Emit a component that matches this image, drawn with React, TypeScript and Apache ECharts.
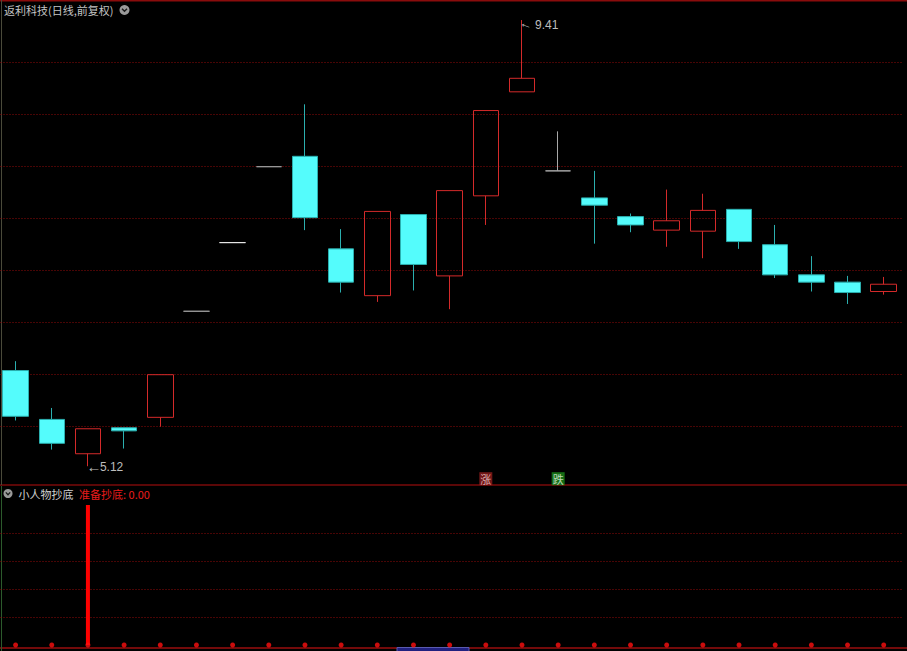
import React, { useEffect, useRef } from 'react';
import * as echarts from 'echarts';

const categories = [
  '01', '02', '03', '04', '05', '06', '07', '08', '09', '10',
  '11', '12', '13', '14', '15', '16', '17', '18', '19', '20',
  '21', '22', '23', '24', '25',
];
const opens = [6.04, 5.57, 5.24, 5.49, 5.59, 6.61, 7.27, 8.0, 8.1, 7.21, 6.76, 7.54, 6.95, 7.72, 8.72, 7.96, 7.7, 7.52, 7.39, 7.38, 7.59, 7.25, 6.96, 6.89, 6.8];
const closes = [5.6, 5.34, 5.48, 5.46, 6.0, 6.61, 7.27, 8.0, 7.51, 6.89, 7.57, 7.06, 7.77, 8.54, 8.85, 7.96, 7.63, 7.44, 7.48, 7.58, 7.28, 6.96, 6.89, 6.79, 6.87];
const lows = [5.56, 5.28, 5.12, 5.29, 5.5, 6.61, 7.27, 8.0, 7.39, 6.79, 6.7, 6.81, 6.63, 7.44, 8.72, 7.96, 7.26, 7.37, 7.23, 7.12, 7.21, 6.93, 6.8, 6.68, 6.77];
const highs = [6.13, 5.68, 5.48, 5.49, 6.0, 6.61, 7.27, 8.0, 8.6, 7.4, 7.57, 7.54, 7.77, 8.54, 9.41, 8.34, 7.96, 7.55, 7.78, 7.74, 7.59, 7.44, 7.14, 6.95, 6.94];
const dojiColors: Record<number, string> = { 5: '#9c9c9c', 6: '#e8e8e8', 7: '#9c9c9c', 15: '#a8a8a8' };

const priceMin = 5.0;
const priceMax = 9.5;
const priceStep = 0.5;

const highIndex = 14;
const highValue = 9.41;
const lowIndex = 2;
const lowValue = 5.12;

const signalMarkers = [
  { index: 13, text: '涨', bg: '#8e1d1d', fg: '#f2d6d6' },
  { index: 15, text: '跌', bg: '#1a8a1a', fg: '#e0f5e0' },
];
const markerLevel = 5.0;

const bottomSignal = [0, 0, 1, 0, 0, 0, 0, 0, 0, 0, 0, 0, 0, 0, 0, 0, 0, 0, 0, 0, 0, 0, 0, 0, 0];
const bottomDots = [0, 0, 0, 0, 0, 0, 0, 0, 0, 0, 0, 0, 0, 0, 0, 0, 0, 0, 0, 0, 0, 0, 0, 0, 0];

const CJK = '"Noto Sans CJK SC", "Noto Sans", sans-serif';
const NUM = '"Liberation Sans", Arial, sans-serif';

// the chart canvas is shifted 3px to the left of the page so the plot can start left of the page edge
const SHIFT = 3;

export default function App() {
  const ref = useRef<HTMLDivElement>(null);
  useEffect(() => {
    if (!ref.current) return;
    const chart = echarts.init(ref.current, null, { renderer: 'svg' });
    const candleData = categories.map((_, i) => {
      const item: any = { value: [opens[i], closes[i], lows[i], highs[i]] };
      if (dojiColors[i]) item.itemStyle = { borderColorDoji: dojiColors[i] };
      return item;
    });
    const gridLine = { color: '#900a0a', width: 1, type: [1, 2] as any };
    const hidden = { axisLine: { show: false }, axisTick: { show: false }, axisLabel: { show: false } };
    const option: any = {
      animation: false,
      backgroundColor: '#000000',
      grid: [
        { left: 0.5, right: 5.2, top: 10.7, height: 468 },
        { left: 0.5, right: 5.2, top: 505, height: 140 },
      ],
      xAxis: [
        { type: 'category', data: categories, gridIndex: 0, boundaryGap: true, ...hidden, splitLine: { show: false } },
        { type: 'category', data: categories, gridIndex: 1, boundaryGap: true, ...hidden, splitLine: { show: false } },
      ],
      yAxis: [
        {
          type: 'value', gridIndex: 0, min: priceMin, max: priceMax, interval: priceStep, ...hidden,
          splitLine: { show: true, showMinLine: false, showMaxLine: false, lineStyle: gridLine },
        },
        {
          type: 'value', gridIndex: 1, min: 0, max: 1, interval: 0.2, ...hidden,
          splitLine: { show: true, showMinLine: false, showMaxLine: false, lineStyle: gridLine },
        },
      ],
      series: [
        {
          type: 'candlestick', xAxisIndex: 0, yAxisIndex: 0, barWidth: 26,
          data: candleData,
          itemStyle: {
            color: 'transparent', color0: '#54FCFC',
            borderColor: '#D42A2A', borderColor0: '#2BAFAF', borderColorDoji: '#a0a0a0', borderWidth: 1,
          },
          markPoint: {
            symbol: 'circle', symbolSize: 0, silent: true,
            data: [
              {
                coord: [categories[highIndex], highValue],
                label: { show: true, formatter: '←', position: 'inside', rotate: -20, offset: [5.5, 2], color: '#bdbdbd', fontSize: 13, fontFamily: NUM },
              },
              {
                coord: [categories[highIndex], highValue],
                label: { show: true, formatter: highValue.toFixed(2), position: 'right', distance: 0, offset: [13, 5], color: '#bdbdbd', fontSize: 12, fontFamily: NUM },
              },
              {
                coord: [categories[lowIndex], lowValue],
                label: { show: true, formatter: '←', position: 'inside', offset: [6, 0], color: '#bdbdbd', fontSize: 15, fontFamily: NUM },
              },
              {
                coord: [categories[lowIndex], lowValue],
                label: { show: true, formatter: lowValue.toFixed(2), position: 'right', distance: 0, offset: [12, 0.5], color: '#bdbdbd', fontSize: 12, fontFamily: NUM },
              },
            ],
          },
        },
        {
          type: 'scatter', xAxisIndex: 0, yAxisIndex: 0, symbol: 'rect', symbolSize: 13, silent: true,
          data: signalMarkers.map((m) => ({
            value: [categories[m.index], markerLevel],
            itemStyle: { color: m.bg },
            label: { show: true, position: 'inside', formatter: m.text, color: m.fg, fontSize: 11, fontFamily: CJK },
          })),
        },
        {
          type: 'bar', xAxisIndex: 1, yAxisIndex: 1, barWidth: 4, data: bottomSignal,
          itemStyle: { color: '#ff0000' }, silent: true,
        },
        {
          type: 'scatter', xAxisIndex: 1, yAxisIndex: 1, symbol: 'circle', symbolSize: 5, data: bottomDots,
          itemStyle: { color: '#ff1010' }, silent: true,
        },
      ],
      graphic: [
        {
          type: 'group', x: SHIFT, y: 0,
          children: [
            { type: 'line', shape: { x1: 0, y1: 0.75, x2: 907, y2: 0.75 }, style: { stroke: '#8a0c0c', lineWidth: 1.5 } },
            { type: 'line', shape: { x1: 0, y1: 485, x2: 907, y2: 485 }, style: { stroke: '#7a0a0a', lineWidth: 1.5 } },
            { type: 'line', shape: { x1: 0, y1: 648, x2: 907, y2: 648 }, style: { stroke: '#9a0e0e', lineWidth: 1.5 } },
            { type: 'line', shape: { x1: 1.5, y1: 0, x2: 1.5, y2: 485 }, style: { stroke: '#4a4a3a', lineWidth: 1 } },
            { type: 'line', shape: { x1: 1.5, y1: 486, x2: 1.5, y2: 651 }, style: { stroke: '#2c5a2c', lineWidth: 1 } },
            { type: 'text', x: 4, y: 10, style: { text: '返利科技(日线,前复权)', fill: '#c4c4c4', font: `11px ${CJK}`, textVerticalAlign: 'middle' } },
            { type: 'circle', shape: { cx: 124.5, cy: 10, r: 5 }, style: { fill: '#9a9a9a' } },
            { type: 'polyline', shape: { points: [[122, 8.8], [124.5, 11.3], [127, 8.8]] }, style: { stroke: '#1a1a1a', lineWidth: 1.4, fill: 'none' } },
            { type: 'circle', shape: { cx: 8, cy: 493.5, r: 4.5 }, style: { fill: '#9a9a9a' } },
            { type: 'polyline', shape: { points: [[5.8, 492.4], [8, 494.7], [10.2, 492.4]] }, style: { stroke: '#1a1a1a', lineWidth: 1.3, fill: 'none' } },
            { type: 'text', x: 18.5, y: 493.5, style: { text: '小人物抄底', fill: '#d0d0d0', font: `11px ${CJK}`, textVerticalAlign: 'middle' } },
            { type: 'text', x: 79, y: 493.5, style: { text: '准备抄底: 0.00', fill: '#e81c1c', font: `11px ${CJK}`, textVerticalAlign: 'middle' } },
            { type: 'rect', shape: { x: 397, y: 647.5, width: 72, height: 10 }, style: { fill: '#202080', stroke: '#5a5ab0', lineWidth: 1 } },
          ],
        },
      ],
    };
    chart.setOption(option);
    return () => chart.dispose();
  }, []);
  return (
    <div
      ref={ref}
      style={{ position: 'fixed', left: -SHIFT, top: 0, width: 907 + SHIFT, height: 651, background: '#000' }}
    />
  );
}
